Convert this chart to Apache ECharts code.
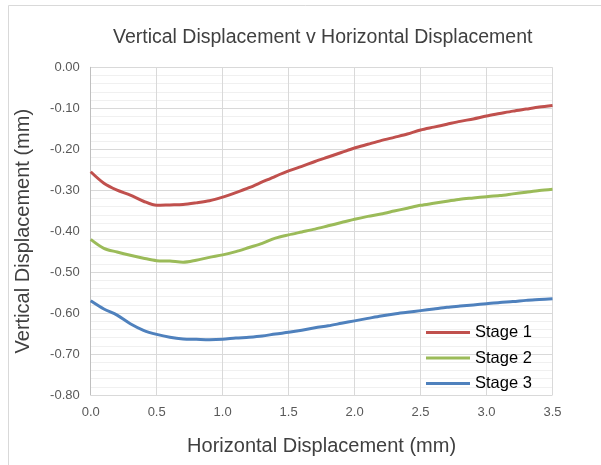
<!DOCTYPE html>
<html>
<head>
<meta charset="utf-8">
<script src="https://cdn.jsdelivr.net/npm/echarts@6/dist/echarts.min.js"></script>
<style>
  html, body { margin: 0; padding: 0; background: #ffffff; }
  #chart { width: 601px; height: 465px; }
</style>
</head>
<body>
<div id="chart"></div>
<script>
// Horizontal displacement (mm)
const horizontal = [0.0, 0.1, 0.2, 0.3, 0.4, 0.5, 0.6, 0.7, 0.8, 0.9,
  1.0, 1.1, 1.2, 1.3, 1.4, 1.5, 1.6, 1.7, 1.8, 1.9,
  2.0, 2.1, 2.2, 2.3, 2.4, 2.5, 2.6, 2.7, 2.8, 2.9,
  3.0, 3.1, 3.2, 3.3, 3.4, 3.5];

// Vertical displacement (mm) for each stage
const stage1 = [-0.255, -0.283, -0.300, -0.312, -0.327, -0.337, -0.336, -0.335, -0.331, -0.326,
  -0.317, -0.306, -0.294, -0.280, -0.266, -0.253, -0.242, -0.230, -0.219, -0.208,
  -0.197, -0.188, -0.179, -0.171, -0.163, -0.153, -0.146, -0.139, -0.132, -0.126,
  -0.119, -0.113, -0.107, -0.102, -0.097, -0.093];
const stage2 = [-0.420, -0.442, -0.451, -0.459, -0.466, -0.472, -0.473, -0.476, -0.471, -0.464,
  -0.458, -0.450, -0.440, -0.430, -0.417, -0.409, -0.402, -0.395, -0.387, -0.379,
  -0.371, -0.364, -0.358, -0.351, -0.344, -0.337, -0.332, -0.327, -0.322, -0.319,
  -0.316, -0.313, -0.309, -0.305, -0.301, -0.298];
const stage3 = [-0.570, -0.590, -0.605, -0.626, -0.642, -0.652, -0.659, -0.663, -0.664, -0.665,
  -0.664, -0.661, -0.659, -0.656, -0.651, -0.647, -0.642, -0.636, -0.631, -0.625,
  -0.619, -0.613, -0.607, -0.602, -0.598, -0.594, -0.590, -0.586, -0.583, -0.580,
  -0.577, -0.574, -0.572, -0.569, -0.567, -0.565];

const seriesNames = ['Stage 1', 'Stage 2', 'Stage 3'];
const seriesColors = ['#C0504D', '#9BBB59', '#4F81BD'];
const seriesValues = [stage1, stage2, stage3];

const chart = echarts.init(document.getElementById('chart'), null, { renderer: 'canvas' });

const fontFamily = '"Liberation Sans", Arial, sans-serif';

chart.setOption({
  backgroundColor: '#ffffff',
  animation: false,
  title: {
    text: 'Vertical Displacement v Horizontal Displacement',
    left: 108,
    top: 23,
    textStyle: { fontFamily, fontSize: 19.5, fontWeight: 'normal', color: '#404040' }
  },
  graphic: [{
    type: 'rect',
    shape: { x: 8.5, y: 5.5, width: 620, height: 480 },
    style: { fill: 'none', stroke: '#d9d9d9', lineWidth: 1 },
    silent: true
  }],
  legend: {
    orient: 'vertical',
    left: 421,
    top: 319,
    itemWidth: 44,
    itemHeight: 14,
    itemGap: 8.5,
    icon: 'path://M0,5.5 L44,5.5 L44,8.5 L0,8.5 Z',
    textStyle: { fontFamily, fontSize: 16.5, lineHeight: 16, color: '#000000' },
    data: seriesNames
  },
  grid: { left: 90.7, right: 48.5, top: 67.3, bottom: 70 },
  xAxis: {
    type: 'value',
    min: 0,
    max: 3.5,
    interval: 0.5,
    name: 'Horizontal Displacement (mm)',
    nameLocation: 'middle',
    nameGap: 41,
    nameTextStyle: { fontFamily, fontSize: 20, color: '#404040' },
    axisLine: { show: false },
    axisTick: { show: false },
    axisLabel: {
      margin: 11,
      formatter: v => v.toFixed(1),
      fontFamily, fontSize: 13, color: '#595959'
    },
    splitLine: { show: true, lineStyle: { color: '#d9d9d9', width: 1 } }
  },
  yAxis: {
    type: 'value',
    min: -0.8,
    max: 0,
    interval: 0.1,
    name: 'Vertical Displacement (mm)',
    nameLocation: 'middle',
    nameGap: 57,
    nameTextStyle: { fontFamily, fontSize: 20, color: '#404040' },
    axisLine: { show: true, lineStyle: { color: '#bfbfbf', width: 1 } },
    axisTick: { show: false },
    axisLabel: {
      margin: 11,
      formatter: v => v.toFixed(2),
      fontFamily, fontSize: 13, color: '#595959'
    },
    splitLine: { show: true, lineStyle: { color: '#d9d9d9', width: 1 } },
    minorTick: { show: false, splitNumber: 5 },
    minorSplitLine: { show: true, lineStyle: { color: '#f0f0f0', width: 1 } }
  },
  series: seriesNames.map((name, i) => ({
    name,
    type: 'line',
    data: horizontal.map((x, j) => [x, seriesValues[i][j]]),
    showSymbol: false,
    symbol: 'none',
    smooth: 0.3,
    color: seriesColors[i],
    lineStyle: { color: seriesColors[i], width: 3 },
    z: 3 - i
  }))
});
</script>
</body>
</html>
